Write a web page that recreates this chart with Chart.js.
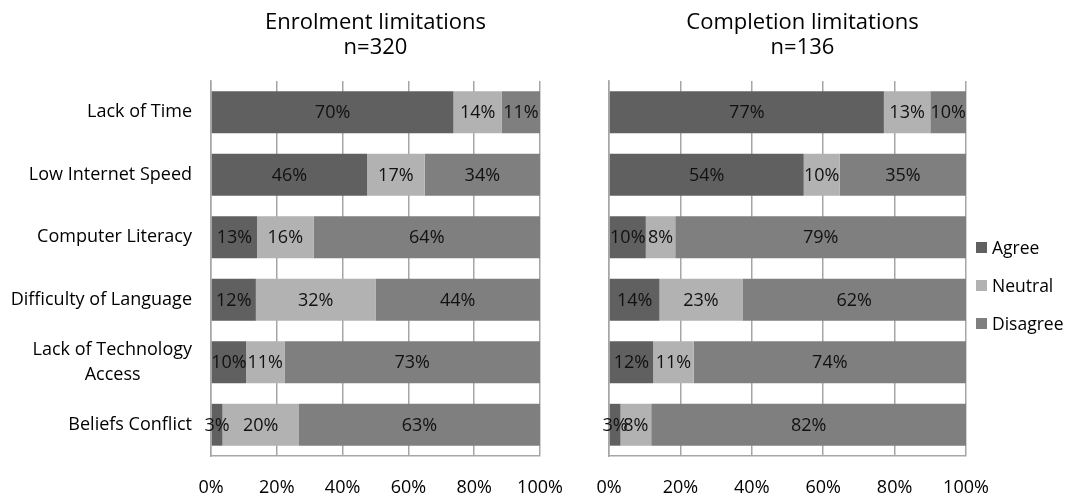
<!DOCTYPE html>
<html>
<head>
<meta charset="utf-8">
<script src="https://cdn.jsdelivr.net/npm/chart.js@4.4.1/dist/chart.umd.min.js"></script>
<style>
  html, body { margin: 0; padding: 0; background: #fff; width: 1065px; height: 498px; overflow: hidden; }
  #c1 { position: absolute; left: 0; top: 0; }
  #c2 { position: absolute; left: 540px; top: 0; }
  #legend { position: absolute; left: 976px; top: 228px; font-family: "Open Sans", sans-serif; font-size: 17.5px; color: #000; }
  .item { display: flex; align-items: center; height: 38px; white-space: nowrap; }
  .box { width: 11px; height: 11px; margin-right: 5px; }
</style>
</head>
<body>
<canvas id="c1" width="585" height="498"></canvas>
<canvas id="c2" width="525" height="498"></canvas>
<div id="legend"></div>
<script>
// ---- data ----
const categories = ['Lack of Time', 'Low Internet Speed', 'Computer Literacy', 'Difficulty of Language', ['Lack of Technology', 'Access'], 'Beliefs Conflict'];
const seriesNames = ['Agree', 'Neutral', 'Disagree'];
const enrolAgree = [70, 46, 13, 12, 10, 3];
const enrolNeutral = [14, 17, 16, 32, 11, 20];
const enrolDisagree = [11, 34, 64, 44, 73, 63];
const complAgree = [77, 54, 10, 14, 12, 3];
const complNeutral = [13, 10, 8, 23, 11, 8];
const complDisagree = [10, 35, 79, 62, 74, 82];
const enrolTitle = ['Enrolment limitations', 'n=320'];
const complTitle = ['Completion limitations', 'n=136'];
const seriesColors = ['#606060', '#b2b2b2', '#7f7f7f'];

const FONT = '"Open Sans", sans-serif';
const GRID = '#a6a6a6';

// centre the lines of a multi-line (right-aligned) category label relative to each other
const measureCtx = document.createElement('canvas').getContext('2d');
measureCtx.font = '18px ' + FONT;
function centreLines(lbl) {
  if (!Array.isArray(lbl)) return lbl;
  const widths = lbl.map(t => measureCtx.measureText(t).width);
  const maxW = Math.max(...widths);
  const sp = measureCtx.measureText(' ').width;
  return lbl.map((t, i) => t + ' '.repeat(Math.round((maxW - widths[i]) / 2 / sp)));
}

function buildDatasets(series) {
  const totals = categories.map((_, j) => series.reduce((s, arr) => s + arr[j], 0));
  return series.map((arr, i) => ({
    label: seriesNames[i],
    data: arr.map((v, j) => v / totals[j] * 100),
    rawValues: arr,
    backgroundColor: seriesColors[i],
    borderWidth: 0,
    barPercentage: 0.67,
    categoryPercentage: 1
  }));
}

const barLabels = {
  id: 'barLabels',
  afterDatasetsDraw(chart) {
    const ctx = chart.ctx;
    ctx.save();
    ctx.font = '18px ' + FONT;
    ctx.fillStyle = '#111';
    ctx.textAlign = 'center';
    ctx.textBaseline = 'middle';
    chart.data.datasets.forEach((ds, i) => {
      const meta = chart.getDatasetMeta(i);
      meta.data.forEach((el, j) => {
        const x = (el.x + el.base) / 2;
        ctx.fillText(ds.rawValues[j] + '%', x, el.y + 1);
      });
    });
    ctx.restore();
  }
};

const titleShift = {
  id: 'titleShift',
  afterLayout(chart, args, opts) {
    const dx = (opts && opts.dx) || 0;
    if (chart.titleBlock && dx) {
      chart.titleBlock.left += dx;
      chart.titleBlock.right += dx;
    }
  }
};

function makeChart(id, series, title, showY, padRight, yWidth, dx) {
  return new Chart(document.getElementById(id), {
    type: 'bar',
    data: { labels: categories, datasets: buildDatasets(series) },
    options: {
      indexAxis: 'y',
      responsive: false,
      animation: false,
      layout: { padding: { left: 0, right: padRight, top: 0, bottom: 0 } },
      plugins: {
        legend: { display: false },
        tooltip: { enabled: false },
        title: {
          display: true,
          text: title,
          fullSize: false,
          color: '#000',
          font: { family: FONT, size: 22, weight: 'normal', lineHeight: 1.136 },
          padding: { top: 10.5, bottom: 20.5 }
        },
        titleShift: { dx: dx }
      },
      scales: {
        x: {
          stacked: true,
          min: 0,
          max: 100,
          ticks: {
            stepSize: 20,
            callback: v => v + '%',
            color: '#000',
            font: { family: FONT, size: 18 },
            padding: 21,
            maxRotation: 0
          },
          grid: { color: GRID, lineWidth: 1.5, drawTicks: false },
          border: { color: GRID, width: 1.5 },
          afterFit(s) { s.height = 42; }
        },
        y: {
          stacked: true,
          ticks: {
            display: showY,
            color: '#000',
            font: { family: FONT, size: 18, lineHeight: 1.4 },
            padding: 19,
            callback(value) { return centreLines(this.getLabelForValue(value)); }
          },
          grid: { display: false, drawTicks: false },
          border: { color: GRID, width: 1.5 },
          afterFit(s) { s.width = yWidth; }
        }
      }
    },
    plugins: [barLabels, titleShift]
  });
}

makeChart('c1', [enrolAgree, enrolNeutral, enrolDisagree], enrolTitle, true, 45, 211, 0);
makeChart('c2', [complAgree, complNeutral, complDisagree], complTitle, false, 99, 69, 15);

// legend
const legend = document.getElementById('legend');
seriesNames.forEach((name, i) => {
  const item = document.createElement('div');
  item.className = 'item';
  const box = document.createElement('span');
  box.className = 'box';
  box.style.background = seriesColors[i];
  const txt = document.createElement('span');
  txt.textContent = name;
  item.appendChild(box);
  item.appendChild(txt);
  legend.appendChild(item);
});
</script>
</body>
</html>
